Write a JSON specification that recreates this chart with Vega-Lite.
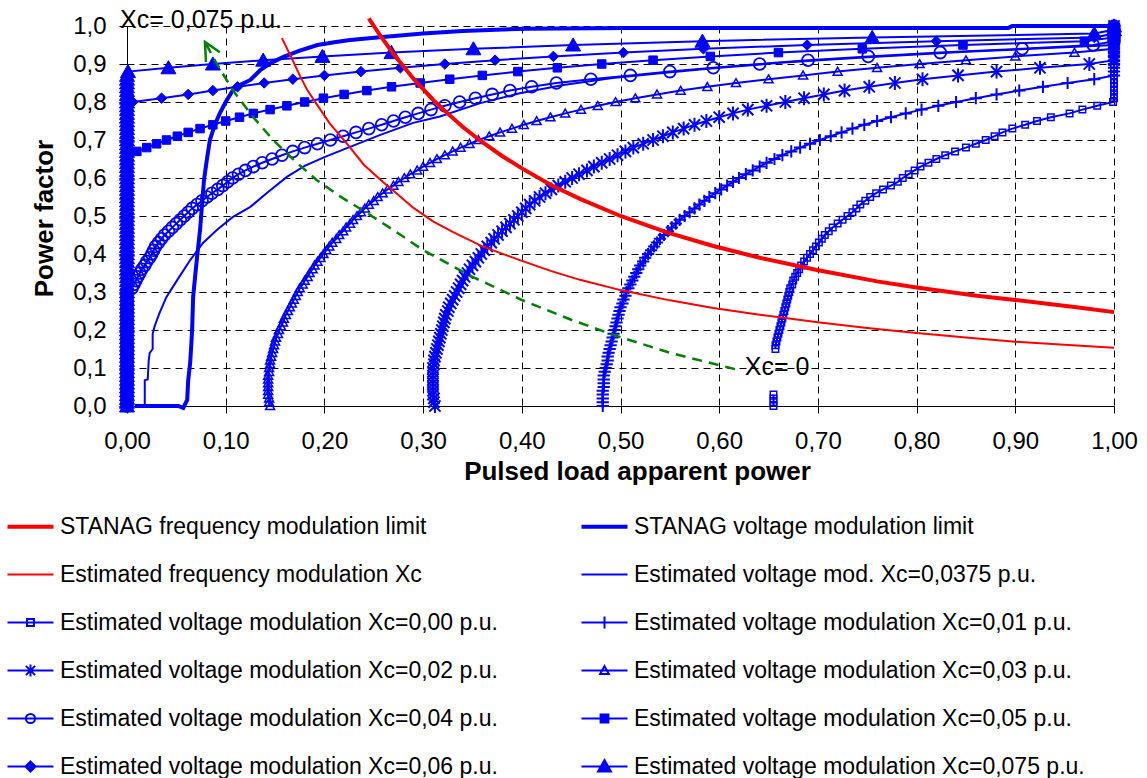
{
  "$schema": "https://vega.github.io/schema/vega-lite/v6.json",
  "width": 987,
  "height": 380,
  "autosize": "none",
  "padding": {"left": 127, "top": 26, "right": 33, "bottom": 372},
  "config": {
    "font": "Liberation Sans",
    "view": {"stroke": null},
    "axis": {
      "grid": true, "gridColor": "#000000", "gridDash": [7, 5], "gridWidth": 1,
      "domainColor": "#000000", "domainWidth": 1, "tickColor": "#000000", "tickWidth": 1,
      "labelColor": "#000000", "labelFont": "Liberation Sans", "labelFontSize": 24,
      "titleFont": "Liberation Sans", "titleFontSize": 26, "titleFontWeight": "bold", "titleColor": "#000000",
      "labelFlush": false, "labelOverlap": false
    },
    "axisX": {"tickSize": 7, "labelPadding": 16},
    "axisY": {"tickSize": 8, "labelPadding": 13}
  },
  "datasets": {
    "d00": [
      {"x":0.655,"y":0,"p":1},{"x":0.655,"y":0.01,"p":1},{"x":0.655,"y":0.02,"p":1},{"x":0.655,"y":0.03,"p":1},
      {"x":0.657,"y":0.15},{"x":0.657,"y":0.16},{"x":0.658,"y":0.17},{"x":0.659,"y":0.18},{"x":0.66,"y":0.19},
      {"x":0.661,"y":0.2},{"x":0.662,"y":0.21},{"x":0.663,"y":0.22},{"x":0.664,"y":0.23},{"x":0.665,"y":0.24},
      {"x":0.666,"y":0.25},{"x":0.667,"y":0.26},{"x":0.668,"y":0.27},{"x":0.669,"y":0.28},{"x":0.67,"y":0.29},
      {"x":0.671,"y":0.3},{"x":0.672,"y":0.31},{"x":0.674,"y":0.32},{"x":0.675,"y":0.33},{"x":0.677,"y":0.34},
      {"x":0.679,"y":0.35},{"x":0.681,"y":0.36},{"x":0.683,"y":0.37},{"x":0.686,"y":0.38},{"x":0.689,"y":0.39},
      {"x":0.692,"y":0.4},{"x":0.695,"y":0.41},{"x":0.698,"y":0.42},{"x":0.701,"y":0.43},{"x":0.704,"y":0.44},
      {"x":0.707,"y":0.45},{"x":0.711,"y":0.46},{"x":0.715,"y":0.47},{"x":0.72,"y":0.48},{"x":0.725,"y":0.49},
      {"x":0.73,"y":0.5},{"x":0.735,"y":0.51},{"x":0.739,"y":0.52},{"x":0.743,"y":0.53},{"x":0.748,"y":0.54},
      {"x":0.753,"y":0.55},{"x":0.759,"y":0.56},{"x":0.766,"y":0.57},{"x":0.774,"y":0.58},{"x":0.781,"y":0.59},
      {"x":0.786,"y":0.6},{"x":0.792,"y":0.61},{"x":0.798,"y":0.62},{"x":0.804,"y":0.63},{"x":0.812,"y":0.64},
      {"x":0.82,"y":0.65},{"x":0.829,"y":0.66},{"x":0.839,"y":0.67},{"x":0.85,"y":0.68},{"x":0.86,"y":0.69},
      {"x":0.87,"y":0.7},{"x":0.879,"y":0.71},{"x":0.887,"y":0.72},{"x":0.897,"y":0.73},{"x":0.91,"y":0.74},
      {"x":0.922,"y":0.75},{"x":0.936,"y":0.76},{"x":0.955,"y":0.77},{"x":0.968,"y":0.78},{"x":0.983,"y":0.79},
      {"x":0.999,"y":0.8},{"x":1,"y":0.81},{"x":1,"y":0.82},{"x":1,"y":0.83},{"x":1,"y":0.84},
      {"x":1,"y":0.85},{"x":1,"y":0.86},{"x":1,"y":0.87},{"x":1,"y":0.88},{"x":1,"y":0.89},
      {"x":1,"y":0.9},{"x":1,"y":0.91},{"x":1,"y":0.92},{"x":1,"y":0.93},{"x":1,"y":0.94},
      {"x":1,"y":0.95},{"x":1,"y":0.96},{"x":1,"y":0.97},{"x":1,"y":0.98},{"x":1,"y":0.99},{"x":1,"y":1}
    ],
    "d01": [
      {"x":0.482,"y":0},{"x":0.482,"y":0.01},{"x":0.482,"y":0.02},{"x":0.482,"y":0.03},{"x":0.482,"y":0.04},
      {"x":0.483,"y":0.05},{"x":0.483,"y":0.06},{"x":0.483,"y":0.07},{"x":0.483,"y":0.08},{"x":0.484,"y":0.09},
      {"x":0.485,"y":0.1},{"x":0.486,"y":0.11},{"x":0.487,"y":0.12},{"x":0.487,"y":0.13},{"x":0.488,"y":0.14},
      {"x":0.489,"y":0.15},{"x":0.49,"y":0.16},{"x":0.491,"y":0.17},{"x":0.492,"y":0.18},{"x":0.493,"y":0.19},
      {"x":0.494,"y":0.2},{"x":0.495,"y":0.21},{"x":0.496,"y":0.22},{"x":0.497,"y":0.23},{"x":0.498,"y":0.24},
      {"x":0.499,"y":0.25},{"x":0.5,"y":0.26},{"x":0.502,"y":0.27},{"x":0.503,"y":0.28},{"x":0.505,"y":0.29},
      {"x":0.506,"y":0.3},{"x":0.508,"y":0.31},{"x":0.51,"y":0.32},{"x":0.512,"y":0.33},{"x":0.514,"y":0.34},
      {"x":0.516,"y":0.35},{"x":0.518,"y":0.36},{"x":0.52,"y":0.37},{"x":0.523,"y":0.38},{"x":0.525,"y":0.39},
      {"x":0.528,"y":0.4},{"x":0.531,"y":0.41},{"x":0.534,"y":0.42},{"x":0.537,"y":0.43},{"x":0.54,"y":0.44},
      {"x":0.544,"y":0.45},{"x":0.548,"y":0.46},{"x":0.552,"y":0.47},{"x":0.556,"y":0.48},{"x":0.56,"y":0.49},
      {"x":0.565,"y":0.5},{"x":0.57,"y":0.51},{"x":0.575,"y":0.52},{"x":0.58,"y":0.53},{"x":0.585,"y":0.54},
      {"x":0.59,"y":0.55},{"x":0.596,"y":0.56},{"x":0.602,"y":0.57},{"x":0.608,"y":0.58},{"x":0.614,"y":0.59},
      {"x":0.62,"y":0.6},{"x":0.627,"y":0.61},{"x":0.634,"y":0.62},{"x":0.641,"y":0.63},{"x":0.648,"y":0.64},
      {"x":0.656,"y":0.65},{"x":0.664,"y":0.66},{"x":0.673,"y":0.67},{"x":0.682,"y":0.68},{"x":0.692,"y":0.69},
      {"x":0.702,"y":0.7},{"x":0.713,"y":0.71},{"x":0.724,"y":0.72},{"x":0.735,"y":0.73},{"x":0.747,"y":0.74},
      {"x":0.76,"y":0.75},{"x":0.774,"y":0.76},{"x":0.789,"y":0.77},{"x":0.805,"y":0.78},{"x":0.822,"y":0.79},
      {"x":0.84,"y":0.8},{"x":0.86,"y":0.81},{"x":0.881,"y":0.82},{"x":0.904,"y":0.83},{"x":0.928,"y":0.84},
      {"x":0.953,"y":0.85},{"x":0.98,"y":0.86},{"x":1,"y":0.87},{"x":1,"y":0.88},{"x":1,"y":0.89},
      {"x":1,"y":0.9},{"x":1,"y":0.91},{"x":1,"y":0.92},{"x":1,"y":0.93},{"x":1,"y":0.94},
      {"x":1,"y":0.95},{"x":1,"y":0.96},{"x":1,"y":0.97},{"x":1,"y":0.98},{"x":1,"y":0.99},{"x":1,"y":1}
    ],
    "d02": [
      {"x":0.312,"y":0},{"x":0.311,"y":0.01},{"x":0.311,"y":0.02},{"x":0.31,"y":0.03},{"x":0.31,"y":0.04},
      {"x":0.31,"y":0.05},{"x":0.31,"y":0.06},{"x":0.31,"y":0.07},{"x":0.31,"y":0.08},{"x":0.31,"y":0.09},
      {"x":0.31,"y":0.1},{"x":0.311,"y":0.11},{"x":0.311,"y":0.12},{"x":0.312,"y":0.13},{"x":0.313,"y":0.14},
      {"x":0.314,"y":0.15},{"x":0.315,"y":0.16},{"x":0.316,"y":0.17},{"x":0.317,"y":0.18},{"x":0.318,"y":0.19},
      {"x":0.319,"y":0.2},{"x":0.32,"y":0.21},{"x":0.321,"y":0.22},{"x":0.322,"y":0.23},{"x":0.323,"y":0.24},
      {"x":0.325,"y":0.25},{"x":0.326,"y":0.26},{"x":0.328,"y":0.27},{"x":0.33,"y":0.28},{"x":0.332,"y":0.29},
      {"x":0.334,"y":0.3},{"x":0.336,"y":0.31},{"x":0.338,"y":0.32},{"x":0.34,"y":0.33},{"x":0.342,"y":0.34},
      {"x":0.345,"y":0.35},{"x":0.347,"y":0.36},{"x":0.35,"y":0.37},{"x":0.353,"y":0.38},{"x":0.356,"y":0.39},
      {"x":0.359,"y":0.4},{"x":0.362,"y":0.41},{"x":0.365,"y":0.42},{"x":0.369,"y":0.43},{"x":0.372,"y":0.44},
      {"x":0.376,"y":0.45},{"x":0.38,"y":0.46},{"x":0.384,"y":0.47},{"x":0.388,"y":0.48},{"x":0.392,"y":0.49},
      {"x":0.396,"y":0.5},{"x":0.4,"y":0.51},{"x":0.404,"y":0.52},{"x":0.408,"y":0.53},{"x":0.413,"y":0.54},
      {"x":0.418,"y":0.55},{"x":0.424,"y":0.56},{"x":0.43,"y":0.57},{"x":0.437,"y":0.58},{"x":0.444,"y":0.59},
      {"x":0.451,"y":0.6},{"x":0.458,"y":0.61},{"x":0.466,"y":0.62},{"x":0.473,"y":0.63},{"x":0.481,"y":0.64},
      {"x":0.489,"y":0.65},{"x":0.497,"y":0.66},{"x":0.505,"y":0.67},{"x":0.513,"y":0.68},{"x":0.523,"y":0.69},
      {"x":0.533,"y":0.7},{"x":0.543,"y":0.71},{"x":0.553,"y":0.72},{"x":0.564,"y":0.73},{"x":0.575,"y":0.74},
      {"x":0.587,"y":0.75},{"x":0.6,"y":0.76},{"x":0.614,"y":0.77},{"x":0.629,"y":0.78},{"x":0.648,"y":0.79},
      {"x":0.667,"y":0.8},{"x":0.686,"y":0.81},{"x":0.706,"y":0.82},{"x":0.727,"y":0.83},{"x":0.752,"y":0.84},
      {"x":0.778,"y":0.85},{"x":0.806,"y":0.86},{"x":0.842,"y":0.87},{"x":0.881,"y":0.88},{"x":0.925,"y":0.89},
      {"x":0.975,"y":0.9},{"x":1,"y":0.91},{"x":1,"y":0.92},{"x":1,"y":0.93},{"x":1,"y":0.94},
      {"x":1,"y":0.95},{"x":1,"y":0.96},{"x":1,"y":0.97},{"x":1,"y":0.98},{"x":1,"y":0.99},{"x":1,"y":1}
    ],
    "d03": [
      {"x":0.145,"y":0},{"x":0.144,"y":0.01},{"x":0.144,"y":0.02},{"x":0.143,"y":0.03},{"x":0.143,"y":0.04},
      {"x":0.143,"y":0.05},{"x":0.143,"y":0.06},{"x":0.143,"y":0.07},{"x":0.143,"y":0.08},{"x":0.144,"y":0.09},
      {"x":0.144,"y":0.1},{"x":0.145,"y":0.11},{"x":0.145,"y":0.12},{"x":0.146,"y":0.13},{"x":0.147,"y":0.14},
      {"x":0.148,"y":0.15},{"x":0.149,"y":0.16},{"x":0.15,"y":0.17},{"x":0.151,"y":0.18},{"x":0.153,"y":0.19},
      {"x":0.154,"y":0.2},{"x":0.156,"y":0.21},{"x":0.158,"y":0.22},{"x":0.159,"y":0.23},{"x":0.161,"y":0.24},
      {"x":0.163,"y":0.25},{"x":0.165,"y":0.26},{"x":0.167,"y":0.27},{"x":0.169,"y":0.28},{"x":0.171,"y":0.29},
      {"x":0.173,"y":0.3},{"x":0.175,"y":0.31},{"x":0.178,"y":0.32},{"x":0.18,"y":0.33},{"x":0.183,"y":0.34},
      {"x":0.185,"y":0.35},{"x":0.188,"y":0.36},{"x":0.19,"y":0.37},{"x":0.193,"y":0.38},{"x":0.196,"y":0.39},
      {"x":0.199,"y":0.4},{"x":0.202,"y":0.41},{"x":0.205,"y":0.42},{"x":0.208,"y":0.43},{"x":0.212,"y":0.44},
      {"x":0.215,"y":0.45},{"x":0.219,"y":0.46},{"x":0.222,"y":0.47},{"x":0.226,"y":0.48},{"x":0.229,"y":0.49},
      {"x":0.233,"y":0.5},{"x":0.237,"y":0.51},{"x":0.241,"y":0.52},{"x":0.245,"y":0.53},{"x":0.25,"y":0.54},
      {"x":0.254,"y":0.55},{"x":0.259,"y":0.56},{"x":0.264,"y":0.57},{"x":0.27,"y":0.58},{"x":0.275,"y":0.59},
      {"x":0.281,"y":0.6},{"x":0.287,"y":0.61},{"x":0.294,"y":0.62},{"x":0.3,"y":0.63},{"x":0.307,"y":0.64},
      {"x":0.314,"y":0.65},{"x":0.322,"y":0.66},{"x":0.33,"y":0.67},{"x":0.338,"y":0.68},{"x":0.347,"y":0.69},
      {"x":0.356,"y":0.7},{"x":0.367,"y":0.71},{"x":0.378,"y":0.72},{"x":0.39,"y":0.73},{"x":0.402,"y":0.74},
      {"x":0.415,"y":0.75},{"x":0.429,"y":0.76},{"x":0.444,"y":0.77},{"x":0.46,"y":0.78},{"x":0.477,"y":0.79},
      {"x":0.495,"y":0.8},{"x":0.515,"y":0.81},{"x":0.537,"y":0.82},{"x":0.561,"y":0.83},{"x":0.588,"y":0.84},
      {"x":0.617,"y":0.85},{"x":0.65,"y":0.86},{"x":0.685,"y":0.87},{"x":0.72,"y":0.88},{"x":0.76,"y":0.89},
      {"x":0.803,"y":0.9},{"x":0.85,"y":0.91},{"x":0.9,"y":0.92},{"x":0.96,"y":0.93},{"x":1,"y":0.94},
      {"x":1,"y":0.95},{"x":1,"y":0.96},{"x":1,"y":0.97},{"x":1,"y":0.98},{"x":1,"y":0.99},{"x":1,"y":1}
    ],
    "d04": [
      {"x":0,"y":0},{"x":0,"y":0.01},{"x":0,"y":0.02},{"x":0,"y":0.03},{"x":0,"y":0.04},
      {"x":0,"y":0.05},{"x":0,"y":0.06},{"x":0,"y":0.07},{"x":0,"y":0.08},{"x":0,"y":0.09},
      {"x":0,"y":0.1},{"x":0,"y":0.11},{"x":0,"y":0.12},{"x":0,"y":0.13},{"x":0,"y":0.14},
      {"x":0,"y":0.15},{"x":0,"y":0.16},{"x":0,"y":0.17},{"x":0,"y":0.18},{"x":0,"y":0.19},
      {"x":0,"y":0.2},{"x":0,"y":0.21},{"x":0,"y":0.22},{"x":0,"y":0.23},{"x":0,"y":0.24},
      {"x":0,"y":0.25},{"x":0,"y":0.26},{"x":0,"y":0.27},{"x":0,"y":0.28},{"x":0,"y":0.29},
      {"x":0,"y":0.3},{"x":0.005,"y":0.31},{"x":0.007,"y":0.32},{"x":0.009,"y":0.33},{"x":0.011,"y":0.34},
      {"x":0.013,"y":0.35},{"x":0.015,"y":0.36},{"x":0.018,"y":0.37},{"x":0.02,"y":0.38},{"x":0.023,"y":0.39},
      {"x":0.025,"y":0.4},{"x":0.027,"y":0.41},{"x":0.029,"y":0.42},{"x":0.032,"y":0.43},{"x":0.035,"y":0.44},
      {"x":0.038,"y":0.45},{"x":0.042,"y":0.46},{"x":0.046,"y":0.47},{"x":0.05,"y":0.48},{"x":0.054,"y":0.49},
      {"x":0.058,"y":0.5},{"x":0.062,"y":0.51},{"x":0.066,"y":0.52},{"x":0.071,"y":0.53},{"x":0.076,"y":0.54},
      {"x":0.081,"y":0.55},{"x":0.086,"y":0.56},{"x":0.092,"y":0.57},{"x":0.097,"y":0.58},{"x":0.102,"y":0.59},
      {"x":0.107,"y":0.6},{"x":0.113,"y":0.61},{"x":0.12,"y":0.62},{"x":0.128,"y":0.63},{"x":0.137,"y":0.64},
      {"x":0.147,"y":0.65},{"x":0.157,"y":0.66},{"x":0.168,"y":0.67},{"x":0.18,"y":0.68},{"x":0.193,"y":0.69},
      {"x":0.206,"y":0.7},{"x":0.219,"y":0.71},{"x":0.232,"y":0.72},{"x":0.245,"y":0.73},{"x":0.258,"y":0.74},
      {"x":0.27,"y":0.75},{"x":0.282,"y":0.76},{"x":0.295,"y":0.77},{"x":0.308,"y":0.78},{"x":0.322,"y":0.79},
      {"x":0.337,"y":0.8},{"x":0.353,"y":0.81},{"x":0.37,"y":0.82},{"x":0.388,"y":0.83},{"x":0.41,"y":0.84},
      {"x":0.435,"y":0.85},{"x":0.47,"y":0.86},{"x":0.51,"y":0.87},{"x":0.55,"y":0.88},{"x":0.594,"y":0.89},
      {"x":0.641,"y":0.9},{"x":0.69,"y":0.91},{"x":0.751,"y":0.92},{"x":0.824,"y":0.93},{"x":0.907,"y":0.94},
      {"x":0.979,"y":0.95},{"x":1,"y":0.96},{"x":1,"y":0.97},{"x":1,"y":0.98},{"x":1,"y":0.99},{"x":1,"y":1}
    ],
    "d05": [
      {"x":0,"y":0},{"x":0,"y":0.01},{"x":0,"y":0.02},{"x":0,"y":0.03},{"x":0,"y":0.04},
      {"x":0,"y":0.05},{"x":0,"y":0.06},{"x":0,"y":0.07},{"x":0,"y":0.08},{"x":0,"y":0.09},
      {"x":0,"y":0.1},{"x":0,"y":0.11},{"x":0,"y":0.12},{"x":0,"y":0.13},{"x":0,"y":0.14},
      {"x":0,"y":0.15},{"x":0,"y":0.16},{"x":0,"y":0.17},{"x":0,"y":0.18},{"x":0,"y":0.19},
      {"x":0,"y":0.2},{"x":0,"y":0.21},{"x":0,"y":0.22},{"x":0,"y":0.23},{"x":0,"y":0.24},
      {"x":0,"y":0.25},{"x":0,"y":0.26},{"x":0,"y":0.27},{"x":0,"y":0.28},{"x":0,"y":0.29},
      {"x":0,"y":0.3},{"x":0,"y":0.31},{"x":0,"y":0.32},{"x":0,"y":0.33},{"x":0,"y":0.34},
      {"x":0,"y":0.35},{"x":0,"y":0.36},{"x":0,"y":0.37},{"x":0,"y":0.38},{"x":0,"y":0.39},
      {"x":0,"y":0.4},{"x":0,"y":0.41},{"x":0,"y":0.42},{"x":0,"y":0.43},{"x":0,"y":0.44},
      {"x":0,"y":0.45},{"x":0,"y":0.46},{"x":0,"y":0.47},{"x":0,"y":0.48},{"x":0,"y":0.49},
      {"x":0,"y":0.5},{"x":0,"y":0.51},{"x":0,"y":0.52},{"x":0,"y":0.53},{"x":0,"y":0.54},
      {"x":0,"y":0.55},{"x":0,"y":0.56},{"x":0,"y":0.57},{"x":0,"y":0.58},{"x":0,"y":0.59},
      {"x":0,"y":0.6},{"x":0,"y":0.61},{"x":0,"y":0.62},{"x":0,"y":0.63},{"x":0,"y":0.64},
      {"x":0,"y":0.65},{"x":0,"y":0.66},{"x":0.01,"y":0.67},{"x":0.02,"y":0.68},{"x":0.03,"y":0.69},
      {"x":0.04,"y":0.7},{"x":0.051,"y":0.71},{"x":0.062,"y":0.72},{"x":0.074,"y":0.73},{"x":0.087,"y":0.74},
      {"x":0.1,"y":0.75},{"x":0.114,"y":0.76},{"x":0.128,"y":0.77},{"x":0.145,"y":0.78},{"x":0.162,"y":0.79},
      {"x":0.18,"y":0.8},{"x":0.199,"y":0.81},{"x":0.22,"y":0.82},{"x":0.243,"y":0.83},{"x":0.268,"y":0.84},
      {"x":0.297,"y":0.85},{"x":0.327,"y":0.86},{"x":0.36,"y":0.87},{"x":0.396,"y":0.88},{"x":0.436,"y":0.89},
      {"x":0.481,"y":0.9},{"x":0.533,"y":0.91},{"x":0.591,"y":0.92},{"x":0.66,"y":0.93},{"x":0.745,"y":0.94},
      {"x":0.847,"y":0.95},{"x":0.97,"y":0.96},{"x":1,"y":0.97},{"x":1,"y":0.98},{"x":1,"y":0.99},{"x":1,"y":1}
    ],
    "d06": [
      {"x":0,"y":0},{"x":0,"y":0.01},{"x":0,"y":0.02},{"x":0,"y":0.03},{"x":0,"y":0.04},
      {"x":0,"y":0.05},{"x":0,"y":0.06},{"x":0,"y":0.07},{"x":0,"y":0.08},{"x":0,"y":0.09},
      {"x":0,"y":0.1},{"x":0,"y":0.11},{"x":0,"y":0.12},{"x":0,"y":0.13},{"x":0,"y":0.14},
      {"x":0,"y":0.15},{"x":0,"y":0.16},{"x":0,"y":0.17},{"x":0,"y":0.18},{"x":0,"y":0.19},
      {"x":0,"y":0.2},{"x":0,"y":0.21},{"x":0,"y":0.22},{"x":0,"y":0.23},{"x":0,"y":0.24},
      {"x":0,"y":0.25},{"x":0,"y":0.26},{"x":0,"y":0.27},{"x":0,"y":0.28},{"x":0,"y":0.29},
      {"x":0,"y":0.3},{"x":0,"y":0.31},{"x":0,"y":0.32},{"x":0,"y":0.33},{"x":0,"y":0.34},
      {"x":0,"y":0.35},{"x":0,"y":0.36},{"x":0,"y":0.37},{"x":0,"y":0.38},{"x":0,"y":0.39},
      {"x":0,"y":0.4},{"x":0,"y":0.41},{"x":0,"y":0.42},{"x":0,"y":0.43},{"x":0,"y":0.44},
      {"x":0,"y":0.45},{"x":0,"y":0.46},{"x":0,"y":0.47},{"x":0,"y":0.48},{"x":0,"y":0.49},
      {"x":0,"y":0.5},{"x":0,"y":0.51},{"x":0,"y":0.52},{"x":0,"y":0.53},{"x":0,"y":0.54},
      {"x":0,"y":0.55},{"x":0,"y":0.56},{"x":0,"y":0.57},{"x":0,"y":0.58},{"x":0,"y":0.59},
      {"x":0,"y":0.6},{"x":0,"y":0.61},{"x":0,"y":0.62},{"x":0,"y":0.63},{"x":0,"y":0.64},
      {"x":0,"y":0.65},{"x":0,"y":0.66},{"x":0,"y":0.67},{"x":0,"y":0.68},{"x":0,"y":0.69},
      {"x":0,"y":0.7},{"x":0,"y":0.71},{"x":0,"y":0.72},{"x":0,"y":0.73},{"x":0,"y":0.74},
      {"x":0,"y":0.75},{"x":0,"y":0.76},{"x":0,"y":0.77},{"x":0,"y":0.78},{"x":0,"y":0.79},
      {"x":0.006,"y":0.8},{"x":0.035,"y":0.81},{"x":0.062,"y":0.82},{"x":0.087,"y":0.83},{"x":0.112,"y":0.84},
      {"x":0.139,"y":0.85},{"x":0.168,"y":0.86},{"x":0.2,"y":0.87},{"x":0.237,"y":0.88},{"x":0.277,"y":0.89},
      {"x":0.322,"y":0.9},{"x":0.373,"y":0.91},{"x":0.432,"y":0.92},{"x":0.503,"y":0.93},{"x":0.584,"y":0.94},
      {"x":0.689,"y":0.95},{"x":0.82,"y":0.96},{"x":0.98,"y":0.97},{"x":1,"y":0.98},{"x":1,"y":0.99},{"x":1,"y":1}
    ],
    "d075": [
      {"x":0,"y":0},{"x":0,"y":0.01},{"x":0,"y":0.02},{"x":0,"y":0.03},{"x":0,"y":0.04},
      {"x":0,"y":0.05},{"x":0,"y":0.06},{"x":0,"y":0.07},{"x":0,"y":0.08},{"x":0,"y":0.09},
      {"x":0,"y":0.1},{"x":0,"y":0.11},{"x":0,"y":0.12},{"x":0,"y":0.13},{"x":0,"y":0.14},
      {"x":0,"y":0.15},{"x":0,"y":0.16},{"x":0,"y":0.17},{"x":0,"y":0.18},{"x":0,"y":0.19},
      {"x":0,"y":0.2},{"x":0,"y":0.21},{"x":0,"y":0.22},{"x":0,"y":0.23},{"x":0,"y":0.24},
      {"x":0,"y":0.25},{"x":0,"y":0.26},{"x":0,"y":0.27},{"x":0,"y":0.28},{"x":0,"y":0.29},
      {"x":0,"y":0.3},{"x":0,"y":0.31},{"x":0,"y":0.32},{"x":0,"y":0.33},{"x":0,"y":0.34},
      {"x":0,"y":0.35},{"x":0,"y":0.36},{"x":0,"y":0.37},{"x":0,"y":0.38},{"x":0,"y":0.39},
      {"x":0,"y":0.4},{"x":0,"y":0.41},{"x":0,"y":0.42},{"x":0,"y":0.43},{"x":0,"y":0.44},
      {"x":0,"y":0.45},{"x":0,"y":0.46},{"x":0,"y":0.47},{"x":0,"y":0.48},{"x":0,"y":0.49},
      {"x":0,"y":0.5},{"x":0,"y":0.51},{"x":0,"y":0.52},{"x":0,"y":0.53},{"x":0,"y":0.54},
      {"x":0,"y":0.55},{"x":0,"y":0.56},{"x":0,"y":0.57},{"x":0,"y":0.58},{"x":0,"y":0.59},
      {"x":0,"y":0.6},{"x":0,"y":0.61},{"x":0,"y":0.62},{"x":0,"y":0.63},{"x":0,"y":0.64},
      {"x":0,"y":0.65},{"x":0,"y":0.66},{"x":0,"y":0.67},{"x":0,"y":0.68},{"x":0,"y":0.69},
      {"x":0,"y":0.7},{"x":0,"y":0.71},{"x":0,"y":0.72},{"x":0,"y":0.73},{"x":0,"y":0.74},
      {"x":0,"y":0.75},{"x":0,"y":0.76},{"x":0,"y":0.77},{"x":0,"y":0.78},{"x":0,"y":0.79},
      {"x":0,"y":0.8},{"x":0,"y":0.81},{"x":0,"y":0.82},{"x":0,"y":0.83},{"x":0,"y":0.84},
      {"x":0,"y":0.85},{"x":0,"y":0.86},{"x":0,"y":0.87},{"x":0.001,"y":0.88},{"x":0.042,"y":0.89},
      {"x":0.087,"y":0.9},{"x":0.138,"y":0.91},{"x":0.198,"y":0.92},{"x":0.268,"y":0.93},{"x":0.351,"y":0.94},
      {"x":0.452,"y":0.95},{"x":0.583,"y":0.96},{"x":0.755,"y":0.97},{"x":0.98,"y":0.98},{"x":1,"y":0.99},{"x":1,"y":1}
    ],
    "d0375": [
      {"x":0.008,"y":0},{"x":0.018,"y":0},{"x":0.018,"y":0.068},{"x":0.021,"y":0.07},{"x":0.022,"y":0.12},
      {"x":0.023,"y":0.14},{"x":0.026,"y":0.15},{"x":0.026,"y":0.19},{"x":0.028,"y":0.21},{"x":0.033,"y":0.245},
      {"x":0.04,"y":0.287},{"x":0.051,"y":0.332},{"x":0.064,"y":0.384},{"x":0.077,"y":0.429},{"x":0.091,"y":0.463},
      {"x":0.107,"y":0.497},{"x":0.125,"y":0.524},{"x":0.142,"y":0.561},{"x":0.162,"y":0.603},{"x":0.18,"y":0.632},
      {"x":0.2,"y":0.655},{"x":0.226,"y":0.682},{"x":0.256,"y":0.713},{"x":0.29,"y":0.745},{"x":0.317,"y":0.762},
      {"x":0.358,"y":0.797},{"x":0.398,"y":0.823},{"x":0.442,"y":0.845},{"x":0.492,"y":0.863},{"x":0.543,"y":0.876},
      {"x":0.594,"y":0.889},{"x":0.662,"y":0.903},{"x":0.75,"y":0.918},{"x":0.85,"y":0.932},{"x":0.95,"y":0.944},
      {"x":1,"y":0.95},{"x":1,"y":1}
    ],
    "sv": [
      {"x":0.008,"y":0},{"x":0.052,"y":0},{"x":0.057,"y":-0.005},{"x":0.061,"y":0.016},{"x":0.062,"y":0.068},
      {"x":0.064,"y":0.113},{"x":0.066,"y":0.2},{"x":0.067,"y":0.287},{"x":0.069,"y":0.34},{"x":0.071,"y":0.392},
      {"x":0.074,"y":0.463},{"x":0.076,"y":0.53},{"x":0.078,"y":0.594},{"x":0.081,"y":0.65},{"x":0.084,"y":0.7},
      {"x":0.089,"y":0.74},{"x":0.094,"y":0.77},{"x":0.1,"y":0.8},{"x":0.107,"y":0.83},{"x":0.116,"y":0.847},
      {"x":0.125,"y":0.858},{"x":0.135,"y":0.884},{"x":0.146,"y":0.903},{"x":0.158,"y":0.918},{"x":0.175,"y":0.935},
      {"x":0.193,"y":0.95},{"x":0.21,"y":0.957},{"x":0.226,"y":0.963},{"x":0.259,"y":0.971},{"x":0.3,"y":0.98},
      {"x":0.34,"y":0.987},{"x":0.405,"y":0.993},{"x":0.51,"y":0.995},{"x":0.65,"y":0.995},{"x":0.893,"y":0.995},
      {"x":0.897,"y":1},{"x":1,"y":1}
    ],
    "fr": [
      {"x":0.157,"y":0.968},{"x":0.166,"y":0.92},{"x":0.175,"y":0.87},{"x":0.183,"y":0.83},
      {"x":0.192,"y":0.795},{"x":0.205,"y":0.745},{"x":0.223,"y":0.69},{"x":0.24,"y":0.635},{"x":0.259,"y":0.59},
      {"x":0.275,"y":0.555},{"x":0.29,"y":0.522},{"x":0.31,"y":0.486},{"x":0.33,"y":0.458},{"x":0.36,"y":0.42},
      {"x":0.398,"y":0.384},{"x":0.43,"y":0.355},{"x":0.459,"y":0.332},{"x":0.5,"y":0.305},{"x":0.55,"y":0.278},
      {"x":0.594,"y":0.258},{"x":0.641,"y":0.24},{"x":0.702,"y":0.22},{"x":0.75,"y":0.205},{"x":0.8,"y":0.192},
      {"x":0.85,"y":0.18},{"x":0.9,"y":0.169},{"x":0.95,"y":0.161},{"x":1,"y":0.153}
    ],
    "sf": [
      {"x":0.245,"y":1.02},{"x":0.256,"y":0.977},{"x":0.27,"y":0.926},{"x":0.29,"y":0.862},{"x":0.31,"y":0.806},
      {"x":0.324,"y":0.772},{"x":0.34,"y":0.735},{"x":0.358,"y":0.698},{"x":0.38,"y":0.658},{"x":0.401,"y":0.624},
      {"x":0.43,"y":0.581},{"x":0.459,"y":0.545},{"x":0.5,"y":0.5},{"x":0.547,"y":0.457},{"x":0.594,"y":0.421},
      {"x":0.641,"y":0.39},{"x":0.699,"y":0.358},{"x":0.76,"y":0.328},{"x":0.8,"y":0.312},{"x":0.861,"y":0.29},
      {"x":0.9,"y":0.279},{"x":0.962,"y":0.26},{"x":1,"y":0.247}
    ],
    "xc": [
      {"x":0.616,"y":0.097},{"x":0.55,"y":0.14},{"x":0.493,"y":0.187},{"x":0.45,"y":0.227},{"x":0.4,"y":0.279},
      {"x":0.35,"y":0.34},{"x":0.3,"y":0.41},{"x":0.27,"y":0.463},{"x":0.243,"y":0.508},{"x":0.215,"y":0.553},
      {"x":0.192,"y":0.595},{"x":0.17,"y":0.645},{"x":0.148,"y":0.7},{"x":0.128,"y":0.76},{"x":0.107,"y":0.832},
      {"x":0.09,"y":0.905},{"x":0.079,"y":0.958}
    ],
    "arrow": [
      {"x":0.08,"y":0.905},{"x":0.079,"y":0.958},{"x":0.094,"y":0.931}
    ],
    "notes": [
      {"x":-0.007,"y":0.995,"label":"Xc= 0,075 p.u."},
      {"x":0.626,"y":0.082,"label":"Xc= 0"}
    ]
  },
  "encoding": {
    "x": {
      "field": "x", "type": "quantitative",
      "scale": {"domain": [0, 1], "nice": false, "zero": false},
      "axis": {
        "values": [0, 0.1, 0.2, 0.3, 0.4, 0.5, 0.6, 0.7, 0.8, 0.9, 1],
        "labelExpr": "replace(format(datum.value, '.2f'), '.', ',')",
        "title": "Pulsed load apparent power",
        "titleX": 510, "titleY": 73, "titleAlign": "center", "titleBaseline": "alphabetic"
      }
    },
    "y": {
      "field": "y", "type": "quantitative",
      "scale": {"domain": [0, 1], "nice": false, "zero": false},
      "axis": {
        "values": [0, 0.1, 0.2, 0.3, 0.4, 0.5, 0.6, 0.7, 0.8, 0.9, 1],
        "labelExpr": "replace(format(datum.value, '.1f'), '.', ',')",
        "title": "Power factor",
        "titleX": -75, "titleY": 192, "titleAlign": "center", "titleBaseline": "alphabetic", "titleAngle": -90
      }
    }
  },
  "layer": [
    {
      "data": {"name": "d00"},
      "mark": {"type": "line", "strokeWidth": 2, "clip": false},
      "encoding": {
        "order": {"value": null},
        "detail": {"field": "p"},
        "color": {
          "datum": "Estimated voltage modulation Xc=0,00 p.u.", "type": "nominal",
          "scale": {
            "domain": [
              "STANAG frequency modulation limit",
              "STANAG voltage modulation limit",
              "Estimated frequency modulation Xc",
              "Estimated voltage mod. Xc=0,0375 p.u.",
              "Estimated voltage modulation Xc=0,00 p.u.",
              "Estimated voltage modulation Xc=0,01 p.u.",
              "Estimated voltage modulation Xc=0,02 p.u.",
              "Estimated voltage modulation Xc=0,03 p.u.",
              "Estimated voltage modulation Xc=0,04 p.u.",
              "Estimated voltage modulation Xc=0,05 p.u.",
              "Estimated voltage modulation Xc=0,06 p.u.",
              "Estimated voltage modulation Xc=0,075 p.u."
            ],
            "range": ["#ff0000", "#0000ff", "#ff0000", "#0000ff", "#0000ff", "#0000ff", "#0000ff", "#0000ff", "#0000ff", "#0000ff", "#0000ff", "#0000ff"]
          },
          "legend": {
            "orient": "none", "legendX": -120, "legendY": 489,
            "direction": "horizontal", "columns": 2, "columnPadding": 75, "rowPadding": 24,
            "symbolSize": 2116, "symbolStrokeWidth": 1.5, "symbolOffset": 12,
            "labelFontSize": 23, "labelFont": "Liberation Sans", "labelColor": "#000000",
            "labelLimit": 0, "labelOffset": 18, "padding": 0, "title": null,
            "encode": {
              "symbols": {
                "update": {
                  "shape": {"signal": "['M-1,0H1','M-1,0H1','M-1,0H1','M-1,0H1','M-1,0H1M-0.15,-0.15H0.15V0.15H-0.15Z','M-1,0H1M0,-0.26V0.26','M-1,0H1M0,-0.26V0.26M-0.2,-0.2L0.2,0.2M-0.2,0.2L0.2,-0.2','M-1,0H1M0,-0.19L0.19,0.15H-0.19Z','M-1,0H1M0.2,0A0.2,0.2,0,1,1,-0.2,0A0.2,0.2,0,1,1,0.2,0Z','M-1,0H1M-0.17,-0.17H0.17V0.17H-0.17Z','M-1,0H1M0,-0.22L0.22,0L0,0.22L-0.22,0Z','M-1,0H1M0,-0.28L0.28,0.22H-0.28Z'][datum.index]"},
                  "fill": {"signal": "datum.index >= 9 ? '#0000ff' : 'transparent'"},
                  "strokeWidth": {"signal": "datum.index < 2 ? 4 : 2"},
                  "size": {"value": 2116},
                  "opacity": {"value": 1}
                }
              }
            }
          }
        }
      }
    },
    {
      "data": {"name": "d00"},
      "mark": {"type": "point", "shape": "square", "size": 42, "filled": false, "stroke": "#0000ff", "strokeWidth": 1.5, "opacity": 1, "clip": false}
    },
    {
      "data": {"name": "d01"},
      "mark": {"type": "line", "strokeWidth": 2, "clip": false},
      "encoding": {"order": {"value": null}, "color": {"datum": "Estimated voltage modulation Xc=0,01 p.u.", "type": "nominal"}}
    },
    {
      "data": {"name": "d01"},
      "mark": {"type": "point", "shape": "M-1,0H1M0,-1V1", "size": 150, "filled": false, "stroke": "#0000ff", "strokeWidth": 2, "opacity": 1, "clip": false}
    },
    {
      "data": {"name": "d02"},
      "mark": {"type": "line", "strokeWidth": 2, "clip": false},
      "encoding": {"order": {"value": null}, "color": {"datum": "Estimated voltage modulation Xc=0,02 p.u.", "type": "nominal"}}
    },
    {
      "data": {"name": "d02"},
      "mark": {"type": "point", "shape": "M0,-1V1M-0.8,-0.8L0.8,0.8M-0.8,0.8L0.8,-0.8", "size": 196, "filled": false, "stroke": "#0000ff", "strokeWidth": 2, "opacity": 1, "clip": false}
    },
    {
      "data": {"name": "d03"},
      "mark": {"type": "line", "strokeWidth": 2, "clip": false},
      "encoding": {"order": {"value": null}, "color": {"datum": "Estimated voltage modulation Xc=0,03 p.u.", "type": "nominal"}}
    },
    {
      "data": {"name": "d03"},
      "mark": {"type": "point", "shape": "M0,-0.95L1,0.8H-1Z", "size": 81, "filled": false, "stroke": "#0000ff", "strokeWidth": 1.5, "opacity": 1, "clip": false}
    },
    {
      "data": {"name": "d04"},
      "mark": {"type": "line", "strokeWidth": 2, "clip": false},
      "encoding": {"order": {"value": null}, "color": {"datum": "Estimated voltage modulation Xc=0,04 p.u.", "type": "nominal"}}
    },
    {
      "data": {"name": "d04"},
      "mark": {"type": "point", "shape": "circle", "size": 140, "filled": false, "stroke": "#0000ff", "strokeWidth": 1.8, "opacity": 1, "clip": false}
    },
    {
      "data": {"name": "d05"},
      "mark": {"type": "line", "strokeWidth": 2, "clip": false},
      "encoding": {"order": {"value": null}, "color": {"datum": "Estimated voltage modulation Xc=0,05 p.u.", "type": "nominal"}}
    },
    {
      "data": {"name": "d05"},
      "mark": {"type": "point", "shape": "square", "size": 72, "filled": true, "fill": "#0000ff", "stroke": "#0000ff", "strokeWidth": 1, "opacity": 1, "clip": false}
    },
    {
      "data": {"name": "d06"},
      "mark": {"type": "line", "strokeWidth": 2, "clip": false},
      "encoding": {"order": {"value": null}, "color": {"datum": "Estimated voltage modulation Xc=0,06 p.u.", "type": "nominal"}}
    },
    {
      "data": {"name": "d06"},
      "mark": {"type": "point", "shape": "diamond", "size": 110, "filled": true, "fill": "#0000ff", "stroke": "#0000ff", "strokeWidth": 1, "opacity": 1, "clip": false}
    },
    {
      "data": {"name": "d075"},
      "mark": {"type": "line", "strokeWidth": 2, "clip": false},
      "encoding": {"order": {"value": null}, "color": {"datum": "Estimated voltage modulation Xc=0,075 p.u.", "type": "nominal"}}
    },
    {
      "data": {"name": "d075"},
      "mark": {"type": "point", "shape": "M0,-0.95L1,0.8H-1Z", "size": 225, "filled": true, "fill": "#0000ff", "stroke": "#0000ff", "strokeWidth": 1, "opacity": 1, "clip": false}
    },
    {
      "data": {"name": "d0375"},
      "mark": {"type": "line", "strokeWidth": 2, "clip": false},
      "encoding": {"order": {"value": null}, "color": {"datum": "Estimated voltage mod. Xc=0,0375 p.u.", "type": "nominal"}}
    },
    {
      "data": {"name": "sv"},
      "mark": {"type": "line", "strokeWidth": 4, "clip": false},
      "encoding": {"order": {"value": null}, "color": {"datum": "STANAG voltage modulation limit", "type": "nominal"}}
    },
    {
      "data": {"name": "fr"},
      "mark": {"type": "line", "strokeWidth": 2, "clip": false},
      "encoding": {"order": {"value": null}, "color": {"datum": "Estimated frequency modulation Xc", "type": "nominal"}}
    },
    {
      "data": {"name": "sf"},
      "mark": {"type": "line", "strokeWidth": 4, "clip": false},
      "encoding": {"order": {"value": null}, "color": {"datum": "STANAG frequency modulation limit", "type": "nominal"}}
    },
    {
      "data": {"values": [{}]},
      "mark": {"type": "rect", "fill": "#ffffff", "opacity": 1, "clip": false},
      "encoding": {
        "x": {"datum": -0.015, "type": "quantitative"},
        "x2": {"datum": 0.186},
        "y": {"datum": 0.968, "type": "quantitative"},
        "y2": {"datum": 1.07}
      }
    },
    {
      "data": {"name": "xc"},
      "mark": {"type": "line", "color": "#008000", "strokeWidth": 2.5, "strokeDash": [10, 7], "clip": false},
      "encoding": {"order": {"value": null}}
    },
    {
      "data": {"name": "arrow"},
      "mark": {"type": "line", "color": "#008000", "strokeWidth": 2.5, "clip": false},
      "encoding": {"order": {"value": null}}
    },
    {
      "data": {"name": "notes"},
      "mark": {"type": "text", "align": "left", "baseline": "alphabetic", "fontSize": 25, "font": "Liberation Sans", "color": "#000000", "clip": false},
      "encoding": {
        "text": {"field": "label", "type": "nominal"}
      }
    }
  ]
}
